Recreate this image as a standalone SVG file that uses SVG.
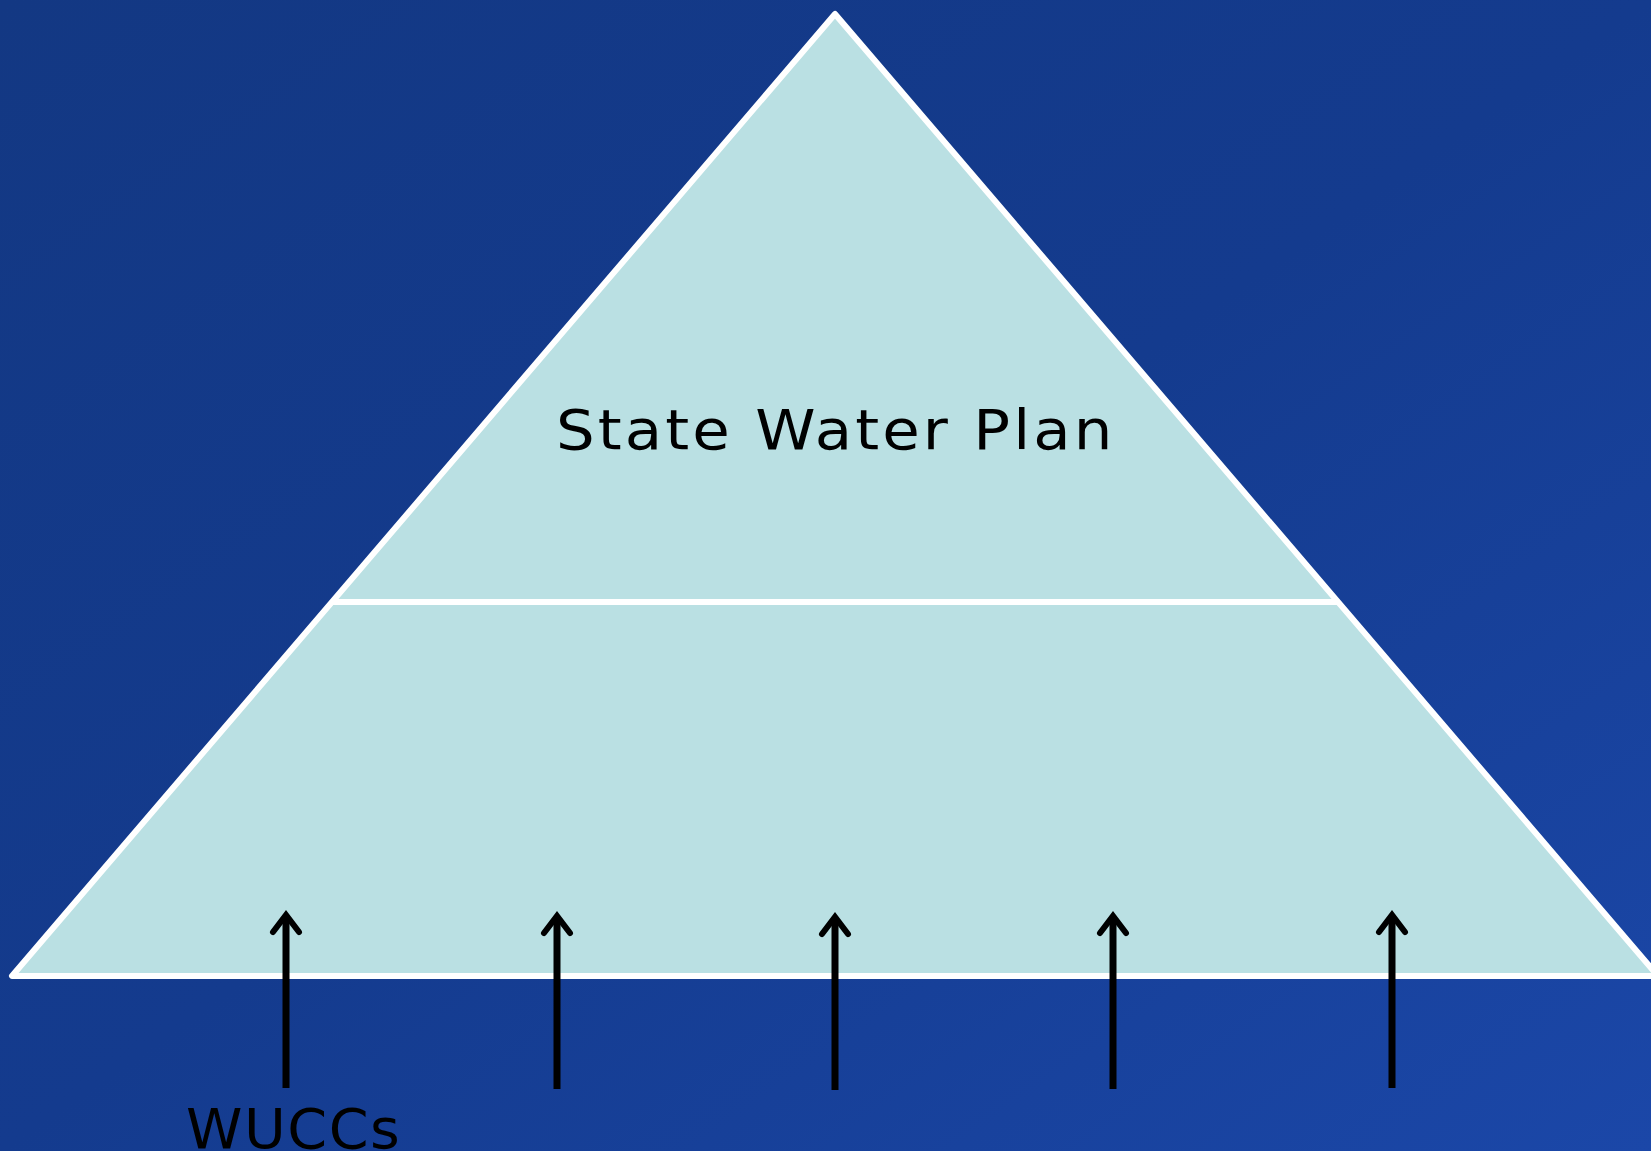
<svg xmlns="http://www.w3.org/2000/svg" width="1651" height="1151" viewBox="0 0 1651 1151">
<defs>
<linearGradient id="bg" x1="0" y1="0" x2="1" y2="1">
<stop offset="0" stop-color="#133883"/>
<stop offset="0.5" stop-color="#143b8e"/>
<stop offset="1" stop-color="#1b47a8"/>
</linearGradient>
<style>
.tri{fill:#bae0e3;stroke:#fff;stroke-width:6;stroke-linejoin:round}
.div{stroke:#fff;stroke-width:6}
.lbl{font-family:"DejaVu Sans","Noto Sans",sans-serif;font-size:56px;fill:#000}
.ar{stroke:#000;stroke-width:7;fill:none}
.hd{stroke:#000;stroke-width:6;fill:none;stroke-linecap:round;stroke-linejoin:miter}
</style>
</defs>
<rect width="1651" height="1151" fill="url(#bg)"/>
<g id="pyramid">
<polygon class="tri" points="835,14 12,976 1658,976"/>
<line class="div" x1="332" y1="602" x2="1338" y2="602"/>
</g>
<g id="state-water-plan">
<text class="lbl" transform="translate(556,449) scale(1.09,1)" letter-spacing="2.8">State Water Plan</text>
</g>
<g id="wuccs">
<text class="lbl" transform="translate(186,1148) scale(1.02,1)" letter-spacing="1.5">WUCCs</text>
</g>
<g id="connectors">
<line class="ar" x1="286" y1="1088" x2="286" y2="918"/>
<path class="hd" d="M273 932 L286 915 L299 932"/>
<line class="ar" x1="557" y1="1089" x2="557" y2="919"/>
<path class="hd" d="M544 933 L557 916 L570 933"/>
<line class="ar" x1="835" y1="1090" x2="835" y2="920"/>
<path class="hd" d="M822 934 L835 917 L848 934"/>
<line class="ar" x1="1113" y1="1089" x2="1113" y2="919"/>
<path class="hd" d="M1100 933 L1113 916 L1126 933"/>
<line class="ar" x1="1392" y1="1088" x2="1392" y2="918"/>
<path class="hd" d="M1379 932 L1392 915 L1405 932"/>
</g>
</svg>
